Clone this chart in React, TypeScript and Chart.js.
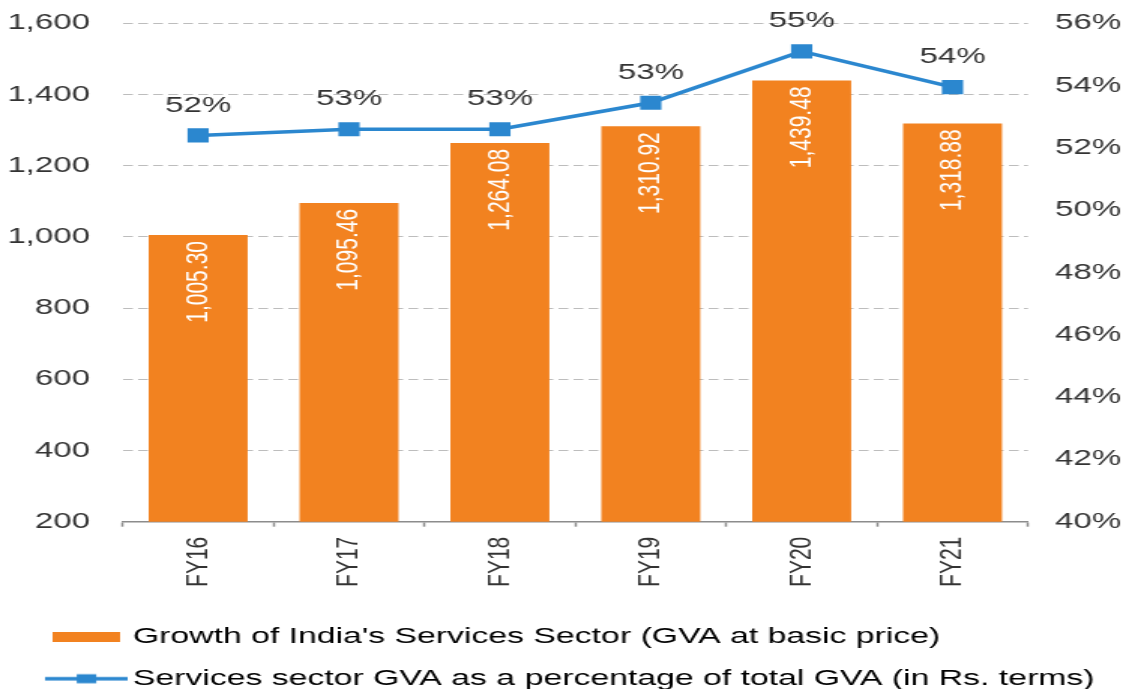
import React, { useEffect, useRef } from 'react';
import { Chart, registerables } from 'chart.js';

Chart.register(...registerables);

// ---- data ----
const categories = ['FY16', 'FY17', 'FY18', 'FY19', 'FY20', 'FY21'];
const gvaValues = [1005.3, 1095.46, 1264.08, 1310.92, 1439.48, 1318.88];
const shareValues = [52.4, 52.6, 52.6, 53.45, 55.1, 53.95];
const shareLabels = ['52%', '53%', '53%', '53%', '55%', '54%'];
const leftAxisRange = [200, 1600, 200]; // min, max, step
const rightAxisRange = [40, 56, 2]; // min, max, step (%)
const seriesNames = [
  "Growth of India's Services Sector (GVA at basic price)",
  'Services sector GVA as a percentage of total GVA (in Rs. terms)',
];

const BAR_COLOR = '#F28220';
const LINE_COLOR = '#2B87CF';
const TEXT_COLOR = '#333333';
const FONT_FAMILY = '"Liberation Sans", Arial, sans-serif';

const CANVAS_W = 750;
const CANVAS_H = 700;

function makeBarSwatch(): HTMLCanvasElement {
  const c = document.createElement('canvas');
  c.width = 45;
  c.height = 10;
  const g = c.getContext('2d')!;
  g.fillStyle = BAR_COLOR;
  g.fillRect(0, 0, 45, 10);
  return c;
}

function makeLineSwatch(): HTMLCanvasElement {
  const c = document.createElement('canvas');
  c.width = 55;
  c.height = 12;
  const g = c.getContext('2d')!;
  g.strokeStyle = LINE_COLOR;
  g.lineWidth = 3.5;
  g.beginPath();
  g.moveTo(0, 6);
  g.lineTo(55, 6);
  g.stroke();
  g.fillStyle = LINE_COLOR;
  g.fillRect(21, 1.5, 13, 9);
  return c;
}

const legendShiftPlugin = {
  id: 'legendShift',
  afterLayout(chart: any) {
    const lg = chart.legend;
    if (lg) {
      lg.left += 18.9;
      lg.right += 18.9;
    }
  },
};

const valueLabelPlugin = {
  id: 'valueLabels',
  afterDatasetsDraw(chart: any) {
    const ctx = chart.ctx as CanvasRenderingContext2D;
    const barMeta = chart.getDatasetMeta(0);
    const lineMeta = chart.getDatasetMeta(1);
    ctx.save();
    ctx.font = `21px ${FONT_FAMILY}`;
    ctx.fillStyle = '#ffffff';
    barMeta.data.forEach((el: any, i: number) => {
      const txt = gvaValues[i].toLocaleString('en-US', {
        minimumFractionDigits: 2,
        maximumFractionDigits: 2,
      });
      ctx.save();
      ctx.translate(el.x, el.y + 6);
      ctx.rotate(-Math.PI / 2);
      ctx.textAlign = 'right';
      ctx.textBaseline = 'middle';
      ctx.fillText(txt, 0, 0);
      ctx.restore();
    });
    ctx.font = `22px ${FONT_FAMILY}`;
    ctx.fillStyle = TEXT_COLOR;
    ctx.textAlign = 'center';
    ctx.textBaseline = 'middle';
    lineMeta.data.forEach((el: any, i: number) => {
      ctx.fillText(shareLabels[i], el.x, el.y - 30);
    });
    ctx.restore();
  },
};

export default function App() {
  const canvasRef = useRef<HTMLCanvasElement | null>(null);

  useEffect(() => {
    document.body.style.margin = '0';
    const canvas = canvasRef.current;
    if (!canvas) return;
    const barSwatch = makeBarSwatch();
    const lineSwatch = makeLineSwatch();

    const chart = new Chart(canvas, {
      data: {
        labels: categories,
        datasets: [
          {
            type: 'bar',
            label: seriesNames[0],
            data: gvaValues,
            backgroundColor: BAR_COLOR,
            borderWidth: 0,
            barPercentage: 0.656,
            categoryPercentage: 1,
            yAxisID: 'y',
            order: 2,
          } as any,
          {
            type: 'line',
            label: seriesNames[1],
            data: shareValues,
            borderColor: LINE_COLOR,
            backgroundColor: LINE_COLOR,
            borderWidth: 3.5,
            pointStyle: 'rect',
            pointRadius: 10,
            pointHoverRadius: 10,
            pointBackgroundColor: LINE_COLOR,
            pointBorderWidth: 0,
            tension: 0,
            yAxisID: 'y1',
            order: 1,
          } as any,
        ],
      },
      options: {
        responsive: false,
        devicePixelRatio: 1,
        animation: false,
        layout: { padding: { left: 0, right: 0, top: 23.3, bottom: 0 } },
        plugins: {
          tooltip: { enabled: false },
          title: { display: false },
          legend: {
            display: true,
            position: 'bottom',
            align: 'start',
            labels: {
              usePointStyle: true,
              pointStyleWidth: 39.2,
              padding: 19.1,
              color: '#262626',
              font: { size: 22.5, family: FONT_FAMILY },
              generateLabels: () => [
                {
                  text: seriesNames[0],
                  pointStyle: barSwatch,
                  fillStyle: BAR_COLOR,
                  strokeStyle: BAR_COLOR,
                  lineWidth: 0,
                  hidden: false,
                  datasetIndex: 0,
                } as any,
                {
                  text: seriesNames[1],
                  pointStyle: lineSwatch,
                  fillStyle: LINE_COLOR,
                  strokeStyle: LINE_COLOR,
                  lineWidth: 0,
                  hidden: false,
                  datasetIndex: 1,
                } as any,
              ],
            },
          },
        },
        scales: {
          x: {
            type: 'category',
            offset: true,
            grid: {
              display: true,
              drawOnChartArea: false,
              drawTicks: true,
              tickLength: 5,
              tickColor: '#8c8c8c',
              tickWidth: 1.5,
              offset: true,
            },
            border: { display: true, color: '#8c8c8c', width: 1.5 },
            ticks: {
              minRotation: 90,
              maxRotation: 90,
              autoSkip: false,
              padding: 10,
              color: TEXT_COLOR,
              font: { size: 21, family: FONT_FAMILY },
            },
            afterFit: (scale: any) => {
              scale.height = 85.1;
            },
          },
          y: {
            type: 'linear',
            position: 'left',
            min: leftAxisRange[0],
            max: leftAxisRange[1],
            grid: {
              display: true,
              drawTicks: false,
              color: '#bdbdbd',
              lineWidth: 1,
            },
            border: { display: false, dash: [6.5, 3.5] },
            ticks: {
              stepSize: leftAxisRange[2],
              padding: 21.8,
              color: TEXT_COLOR,
              font: { size: 22, family: FONT_FAMILY },
              callback: (v: any) => Number(v).toLocaleString('en-US'),
            },
            afterFit: (scale: any) => {
              scale.width = 81.73;
              scale.paddingTop = 0;
              scale.paddingBottom = 0;
            },
          },
          y1: {
            type: 'linear',
            position: 'right',
            min: rightAxisRange[0],
            max: rightAxisRange[1],
            grid: { display: true, drawOnChartArea: false, drawTicks: false },
            border: { display: false },
            ticks: {
              stepSize: rightAxisRange[2],
              padding: 18,
              color: TEXT_COLOR,
              font: { size: 22, family: FONT_FAMILY },
              callback: (v: any) => `${v}%`,
            },
            afterFit: (scale: any) => {
              scale.width = 65.3;
              scale.paddingTop = 0;
              scale.paddingBottom = 0;
            },
          },
        },
      } as any,
      plugins: [legendShiftPlugin, valueLabelPlugin],
    });

    return () => {
      chart.destroy();
    };
  }, []);

  return (
    <div style={{ width: '1126px', height: '689px', overflow: 'hidden', position: 'relative' }}>
      <canvas
        ref={canvasRef}
        width={CANVAS_W}
        height={CANVAS_H}
        style={{ width: '1126px', height: `${CANVAS_H}px`, display: 'block' }}
      />
    </div>
  );
}
